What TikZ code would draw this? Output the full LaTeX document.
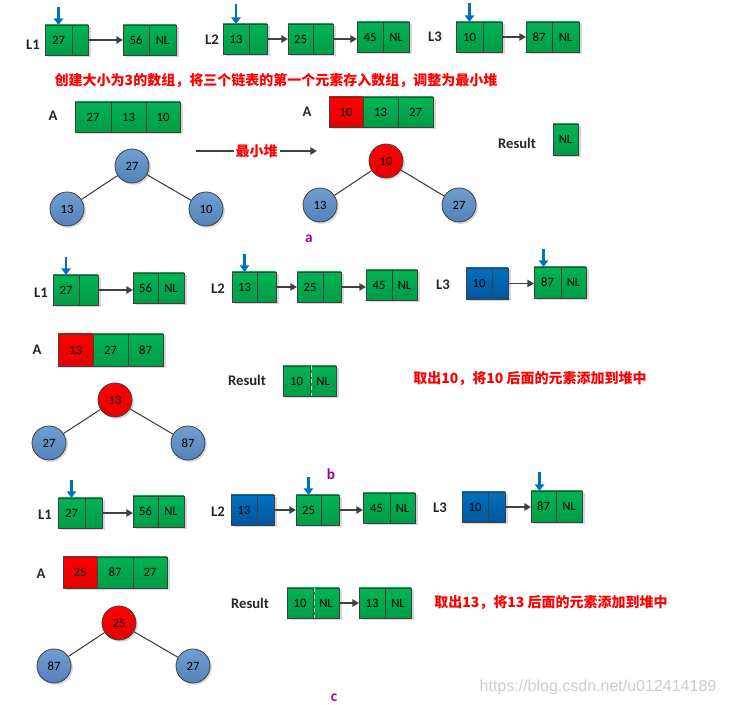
\documentclass[tikz,border=0pt]{standalone}
\usepackage{fontspec}
\setmainfont{Carlito}
\newfontfamily\cjk{Noto Sans CJK SC}
\newfontfamily\wmfont{Liberation Sans}
\usetikzlibrary{arrows.meta}
\definecolor{gtop}{RGB}{0,180,84}
\definecolor{gbot}{RGB}{0,156,70}
\definecolor{btop}{RGB}{0,112,192}
\definecolor{bbot}{RGB}{0,86,158}
\definecolor{rtop}{RGB}{255,0,0}
\definecolor{rbot}{RGB}{228,0,0}
\definecolor{ctop}{RGB}{112,158,208}
\definecolor{cbot}{RGB}{84,130,186}
\definecolor{edgegray}{RGB}{64,64,64}
\definecolor{ptrblue}{RGB}{0,112,192}
\definecolor{tagpurple}{RGB}{164,0,164}
\definecolor{shadowgray}{RGB}{214,214,214}
\newcommand\onecell[7]{\fill[shadowgray] ({#2+2.5},{#4+2.5}) rectangle ({#3+2.5},{#5+2.5});
  \node[cellbox,#7,minimum width={(#3-#2)*0.75pt},minimum height={(#5-#4)*0.75pt}] (#1) at ({(#2+#3)/2},{(#4+#5)/2}) {#6};}
\newcommand\twocell[9]{\onecell{#1a}{#2}{#3}{#5}{#6}{#7}{#9}\onecell{#1b}{#3}{#4}{#5}{#6}{#8}{#9}}
\newcommand\tnode[5]{\fill[shadowgray] ({#2+1.8},{#3+1.8}) circle[radius=17];
  \node[treenode,#5] (#1) at (#2,#3) {#4};}
\tikzset{
  cellbox/.style={draw=edgegray, line width=0.6pt, inner sep=0pt, outer sep=0pt,
    font=\fontsize{9.5}{11}\selectfont, text=black},
  gcell/.style={top color=gtop, bottom color=gbot},
  bcell/.style={top color=btop, bottom color=bbot},
  rcell/.style={top color=rtop, bottom color=rbot},
  treenode/.style={circle, draw=edgegray, line width=0.6pt, minimum size=25.5pt, inner sep=0pt,
    font=\fontsize{9.5}{11}\selectfont, top color=ctop, bottom color=cbot},
  rootnode/.style={top color=rtop, bottom color=rbot},
  lab/.style={font=\bfseries\fontsize{11}{13}\selectfont, text=black!85, inner sep=0pt},
  note/.style={font=\cjk\bfseries\fontsize{10.5}{12}\selectfont, text=red, inner sep=0pt},
  tag/.style={font=\bfseries\fontsize{11.5}{13}\selectfont, text=tagpurple, inner sep=0pt},
  link/.style={draw=edgegray, line width=1.4pt, -{Triangle[length=5pt,width=5.5pt]}},
  ptr/.style={draw=ptrblue, line width=1.6pt, -{Triangle[length=5pt,width=7pt]}},
  tedge/.style={draw=edgegray, line width=0.8pt},
}
\begin{document}
\begin{tikzpicture}[x=0.75pt,y=-0.75pt]
\useasboundingbox (0,0) rectangle (729,705);

% ---------------- section a ----------------
\node[lab] (al1) at (33,45) {L1};
\twocell{l1}{45}{72}{88}{25}{55}{27}{}{gcell}
\twocell{l1n}{123}{149}{176}{25}{55}{56}{NL}{gcell}
\draw[link] (l1b.east) -- (l1b.east -| l1na.west);
\draw[ptr] ([yshift=13.5pt]l1a.north) -- (l1a.north);

\node[lab] (al2) at (212,40) {L2};
\twocell{l2}{223}{249}{267}{24}{54}{13}{}{gcell}
\twocell{l2m}{288}{313}{333}{24}{54}{25}{}{gcell}
\twocell{l2n}{357}{383}{409}{22}{52}{45}{NL}{gcell}
\draw[link] (l2b.east) -- (l2b.east -| l2ma.west);
\draw[link] (l2mb.east) -- (l2mb.east -| l2na.west);
\draw[ptr] ([yshift=15pt]l2a.north) -- (l2a.north);

\node[lab] (al3) at (435,37) {L3};
\twocell{l3}{456}{483}{502}{22}{52}{10}{}{gcell}
\twocell{l3n}{526}{552}{579}{22}{52}{87}{NL}{gcell}
\draw[link] (l3b.east) -- (l3b.east -| l3na.west);
\draw[ptr] ([yshift=14pt]l3a.north) -- (l3a.north);

\node[note] (anote) at (276,81) {创建大小为3的数组，将三个链表的第一个元素存入数组，调整为最小堆};

\node[lab] (aA1) at (53,116) {A};
\onecell{aa1}{75}{111}{102}{132}{27}{gcell}
\onecell{aa2}{111}{146}{102}{132}{13}{gcell}
\onecell{aa3}{146}{180}{102}{132}{10}{gcell}

\tnode{at1r}{132}{166}{27}{}
\tnode{at1l}{67}{209}{13}{}
\tnode{at1g}{206}{209}{10}{}
\draw[tedge] (at1r) -- (at1l);
\draw[tedge] (at1r) -- (at1g);

\coordinate (m1) at (196,151);
\coordinate (m2) at (317,151);
\draw[link] (m1) -- node[note, fill=white, inner sep=1.5pt] (mlab) {最小堆} (m2);

\node[lab] (aA2) at (307,112) {A};
\onecell{ab1}{329}{363}{97}{127}{10}{rcell}
\onecell{ab2}{363}{398}{97}{127}{13}{gcell}
\onecell{ab3}{398}{433}{97}{127}{27}{gcell}

\tnode{at2r}{386}{161}{10}{rootnode}
\tnode{at2l}{320}{205}{13}{}
\tnode{at2g}{459}{205}{27}{}
\draw[tedge] (at2r) -- (at2l);
\draw[tedge] (at2r) -- (at2g);

\node[lab] (ares) at (517,143) {Result};
\onecell{ar1}{553}{578}{124}{155}{NL}{gcell}

\node[tag] (taga) at (309,239) {a};

% ---------------- section b ----------------
\node[lab] (bl1l) at (41,293) {L1};
\twocell{bl1}{53}{79}{98}{275}{305}{27}{}{gcell}
\twocell{bl1n}{133}{158}{184}{273}{303}{56}{NL}{gcell}
\draw[link] (bl1b.east) -- (bl1b.east -| bl1na.west);
\draw[ptr] ([yshift=13.5pt]bl1a.north) -- (bl1a.north);

\node[lab] (bl2l) at (218,289) {L2};
\twocell{bl2}{232}{257}{276}{272}{302}{13}{}{gcell}
\twocell{bl2m}{297}{323}{341}{272}{302}{25}{}{gcell}
\twocell{bl2n}{366}{392}{417}{270}{300}{45}{NL}{gcell}
\draw[link] (bl2b.east) -- (bl2b.east -| bl2ma.west);
\draw[link] (bl2mb.east) -- (bl2mb.east -| bl2na.west);
\draw[ptr] ([yshift=13.5pt]bl2a.north) -- (bl2a.north);

\node[lab] (bl3l) at (443,285) {L3};
\twocell{bl3}{466}{492}{508}{268}{299}{10}{}{bcell}
\twocell{bl3n}{534}{561}{586}{267}{298}{87}{NL}{gcell}
\draw[link] (bl3b.east) -- (bl3b.east -| bl3na.west);
\draw[ptr] ([xshift=-3pt,yshift=13.5pt]bl3na.north) -- ([xshift=-3pt]bl3na.north);

\node[lab] (bA) at (37,350) {A};
\onecell{ba1}{58}{93}{334}{366}{13}{rcell}
\onecell{ba2}{93}{128}{334}{366}{27}{gcell}
\onecell{ba3}{128}{163}{334}{366}{87}{gcell}

\node[lab] (bres) at (247,380) {Result};
\twocell{br1}{283}{310}{336}{366}{396}{10}{NL}{gcell}
\draw[green!35!white, densely dashed, line width=0.9pt] ([xshift=1pt]br1a.north east) -- ([xshift=1pt]br1a.south east);

\node[note] (bnote) at (530,379) {取出10，将10 后面的元素添加到堆中};

\tnode{btr}{115}{400}{13}{rootnode}
\tnode{btl}{49}{443}{27}{}
\tnode{btg}{188}{443}{87}{}
\draw[tedge] (btr) -- (btl);
\draw[tedge] (btr) -- (btg);

\node[tag] (tagb) at (331,474) {b};

% ---------------- section c ----------------
\node[lab] (cl1l) at (45,515) {L1};
\twocell{cl1}{58}{85}{102}{498}{528}{27}{}{gcell}
\twocell{cl1n}{133}{158}{184}{496}{527}{56}{NL}{gcell}
\draw[link] (cl1b.east) -- (cl1b.east -| cl1na.west);
\draw[ptr] ([yshift=13.5pt]cl1a.north) -- (cl1a.north);

\node[lab] (cl2l) at (218,512) {L2};
\twocell{cl2}{231}{257}{274}{495}{525}{13}{}{bcell}
\twocell{cl2m}{296}{321}{339}{495}{525}{25}{}{gcell}
\twocell{cl2n}{363}{390}{415}{493}{523}{45}{NL}{gcell}
\draw[link] (cl2b.east) -- (cl2b.east -| cl2ma.west);
\draw[link] (cl2mb.east) -- (cl2mb.east -| cl2na.west);
\draw[ptr] ([yshift=13.5pt]cl2ma.north) -- (cl2ma.north);

\node[lab] (cl3l) at (440,508) {L3};
\twocell{cl3}{462}{488}{505}{492}{522}{10}{}{bcell}
\twocell{cl3n}{531}{556}{582}{491}{522}{87}{NL}{gcell}
\draw[link] (cl3b.east) -- (cl3b.east -| cl3na.west);
\draw[ptr] ([xshift=-3pt,yshift=14pt]cl3na.north) -- ([xshift=-3pt]cl3na.north);

\node[lab] (cA) at (41,574) {A};
\onecell{ca1}{63}{97}{557}{588}{25}{rcell}
\onecell{ca2}{97}{133}{557}{588}{87}{gcell}
\onecell{ca3}{133}{167}{557}{588}{27}{gcell}

\node[lab] (cres) at (250,603) {Result};
\twocell{cr1}{287}{313}{339}{588}{618}{10}{NL}{gcell}
\draw[green!35!white, densely dashed, line width=0.9pt] ([xshift=1pt]cr1a.north east) -- ([xshift=1pt]cr1a.south east);
\twocell{cr2}{359}{385}{411}{588}{618}{13}{NL}{gcell}
\draw[link] (cr1b.east) -- (cr2a.west);

\node[note] (cnote) at (551,603) {取出13，将13 后面的元素添加到堆中};

\tnode{ctr}{119}{623}{25}{rootnode}
\tnode{ctl}{54}{666}{87}{}
\tnode{ctg}{193}{666}{27}{}
\draw[tedge] (ctr) -- (ctl);
\draw[tedge] (ctr) -- (ctg);

\node[tag] (tagc) at (334,698) {c};

\node[font=\wmfont\fontsize{12}{14}\selectfont, text=black!20, inner sep=0pt] (wm) at (598,687) {https://blog.csdn.net/u012414189};
\end{tikzpicture}
\end{document}
